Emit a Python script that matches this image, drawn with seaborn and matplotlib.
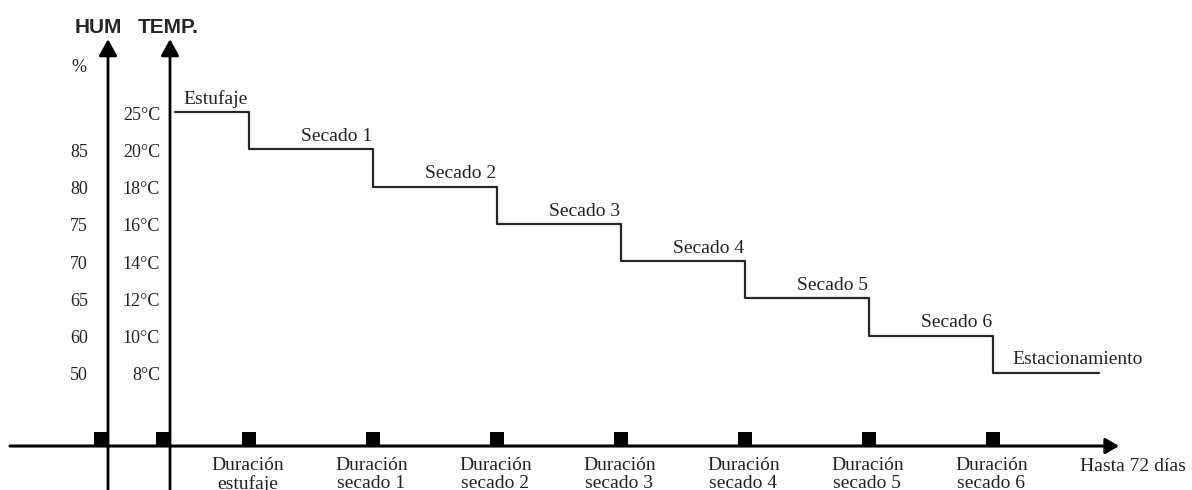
import numpy as np
import pandas as pd
import matplotlib
matplotlib.use("Agg")
import matplotlib.pyplot as plt
import seaborn as sns

# =========================================
# DATA
# =========================================
stages = ['Estufaje', 'Secado 1', 'Secado 2', 'Secado 3', 'Secado 4',
          'Secado 5', 'Secado 6', 'Estacionamiento']
temp_labels = ['25°C', '20°C', '18°C', '16°C', '14°C', '12°C', '10°C', '8°C']
hum_labels = ['', '85', '80', '75', '70', '65', '60', '50']
# schematic width of each stage on the time axis
durations = [0.6, 1, 1, 1, 1, 1, 1, 0.85]
duration_labels = ['Duración\nestufaje', 'Duración\nsecado 1', 'Duración\nsecado 2',
                   'Duración\nsecado 3', 'Duración\nsecado 4', 'Duración\nsecado 5',
                   'Duración\nsecado 6']

# level rank: 25°C on top, 8°C at the bottom
levels = np.arange(len(temp_labels))[::-1]

# =========================================
# LAYOUT
# =========================================
sns.set_style('white')
plt.rcParams['font.family'] = ['Liberation Serif', 'DejaVu Serif']

fig = plt.figure(figsize=(11.92, 4.90), dpi=100)
ax = fig.add_axes([0, 0, 1, 1])
ax.set_xlim(-1.371, 8.242)
ax.set_ylim(-3.147, 10.011)
ax.axis('off')

px_x = 1 / 124.0    # data units per pixel (x)
px_y = 1 / 37.24    # data units per pixel (y)

x_temp = 0.0
x_hum = -62 * px_x
y_base = -1.966
y_top = 8.96
start = 0.04
txt = '#222222'

edges = start + np.concatenate([[0], np.cumsum(durations)])

# step profile
step_df = pd.DataFrame({'x': edges,
                        'y': np.append(levels, levels[-1])})
sns.lineplot(data=step_df, x='x', y='y', drawstyle='steps-post', color='#262626',
             lw=1.6, ax=ax, sort=False, estimator=None)

# axes with arrows
arrow_v = dict(arrowstyle='-|>,head_length=1.0,head_width=0.55', lw=2.0, color='black',
               mutation_scale=10, shrinkA=0, shrinkB=0)
for xa in (x_hum, x_temp):
    ax.annotate('', xy=(xa, y_top), xytext=(xa, -3.3), arrowprops=arrow_v)
ax.annotate('', xy=(949 * px_x, y_base), xytext=(-160 * px_x, y_base),
            arrowprops=dict(arrowstyle='-|>,head_length=0.8,head_width=0.47', lw=2.2,
                            color='black', mutation_scale=10, shrinkA=0, shrinkB=0))

# square markers on the time axis
sq_x = np.concatenate([[x_hum - 7 * px_x, x_temp - 7 * px_x], edges[1:len(durations)]])
sq_df = pd.DataFrame({'x': sq_x, 'y': y_base + 7 * px_y})
sns.scatterplot(data=sq_df, x='x', y='y', marker='s', s=100, color='black',
                linewidth=0, ax=ax, zorder=5)

# tick labels
for lab, lv in zip(temp_labels, levels):
    ax.text(-10 * px_x, lv - 3 * px_y, lab, ha='right', va='center', fontsize=13, color=txt)
for lab, lv in zip(hum_labels, levels):
    if lab:
        ax.text(-91 * px_x, lv - 3 * px_y, lab, ha='center', va='center', fontsize=13, color=txt)
ax.text(-91 * px_x, 8.21, '%', ha='center', va='center', fontsize=13, color=txt)

ax.text(-95 * px_x, 9.27, 'HUM', ha='left', va='center', fontsize=15,
        fontweight='bold', family=['Liberation Sans', 'DejaVu Sans'])
ax.text(-32 * px_x, 9.27, 'TEMP.', ha='left', va='center', fontsize=15,
        fontweight='bold', family=['Liberation Sans', 'DejaVu Sans'])

# stage names
for i, name in enumerate(stages):
    if i < len(stages) - 1:
        ax.annotate(name, xy=(edges[i + 1], levels[i]), xytext=(-1, 6),
                    textcoords='offset points', ha='right', va='baseline',
                    fontsize=14, color=txt)
    else:
        ax.annotate(name, xy=(edges[i], levels[i]), xytext=(14, 6),
                    textcoords='offset points', ha='left', va='baseline',
                    fontsize=14, color=txt)

# duration labels
for xd, lab in zip(edges[1:len(durations)], duration_labels):
    ax.text(xd - 2 * px_x, y_base - 11 * px_y, lab, ha='center', va='top', fontsize=14,
            color=txt, linespacing=1.05)

ax.text(910 * px_x, y_base - 20 * px_y, 'Hasta 72 días', ha='left', va='center',
        fontsize=14, color=txt)

fig.savefig('out.png', dpi=100)
